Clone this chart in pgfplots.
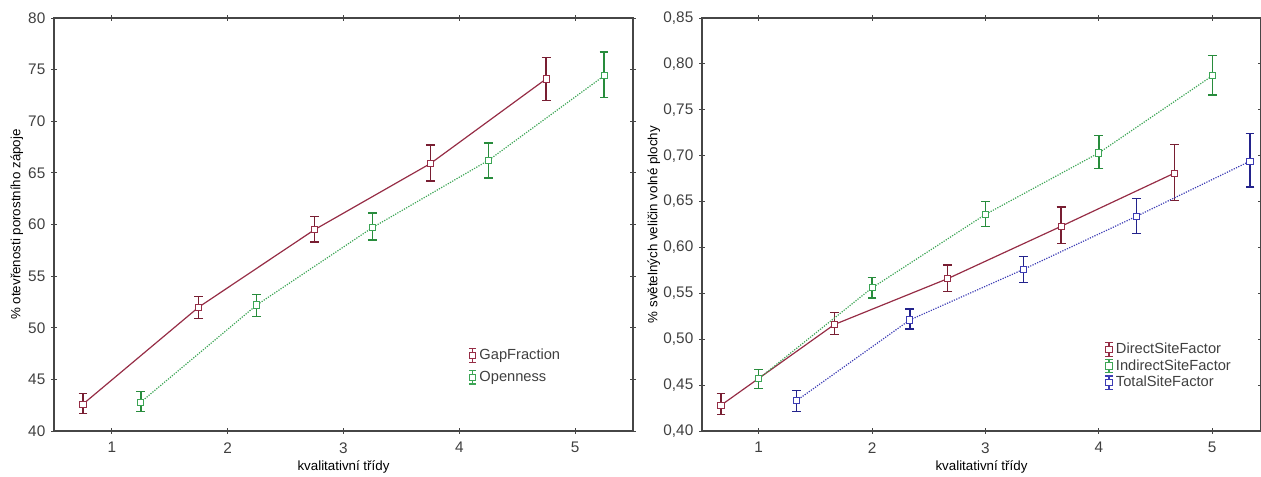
\documentclass[border=0pt]{standalone}
\usepackage{fontspec}
\setmainfont{Liberation Sans}
\usepackage{pgfplots}
\pgfplotsset{compat=1.18}
\definecolor{gfred}{RGB}{150,45,70}
\definecolor{gfreddark}{RGB}{120,30,50}
\definecolor{opgreen}{RGB}{60,165,85}
\definecolor{opgreendark}{RGB}{40,140,60}
\definecolor{tsblue}{RGB}{60,60,180}
\definecolor{tsbluedark}{RGB}{35,35,140}
\definecolor{framegray}{RGB}{70,70,70}

\pgfplotsset{
  statstyle/.style={
    scale only axis,
    axis line style={framegray, line width=0.9pt},
    tick style={framegray, line width=0.6pt},
    tick align=center, major tick length=4pt,
    xtick pos=both, ytick pos=both,
    xmin=0.5,
    xtick={1,2,3,4,5},
    /pgf/number format/assume math mode=true,
    tick label style={font=\fontsize{11.5}{13}\selectfont, text=black!75},
    label style={font=\fontsize{10.5}{12}\selectfont, text=black!75},
    xticklabel style={yshift=-3pt},
    yticklabel style={xshift=-1pt},
    legend style={draw=none, fill=none, anchor=north west, inner sep=0pt,
      font=\fontsize{11}{12}\selectfont, text=black!75,
      cells={anchor=west}},
    legend image code/.code={
      \draw[#1,solid,line width=0.8pt] (0pt,-5pt)--(0pt,5pt)
        (-2.8pt,-5pt)--(2.8pt,-5pt) (-2.8pt,5pt)--(2.8pt,5pt);
      \draw[#1,solid] plot coordinates {(0pt,0pt)};
    },
  },
  ser/.style 2 args={color=#1, line width=0.9pt, mark=square*,
    mark size=2.3pt, mark options={solid, fill=white, draw=#1, line width=0.7pt},
    error bars/y dir=both, error bars/y explicit,
    error bars/error bar style={color=#2, line width=1pt, solid},
    error bars/error mark options={rotate=90, mark size=3.3pt, color=#2, line width=1pt, solid}},
}

\begin{document}
\begin{tikzpicture}
\useasboundingbox (0,0) rectangle (945.75pt,357.75pt);

% left panel
\begin{axis}[statstyle,
  at={(40.5pt,34.5pt)}, anchor=south west,
  width=434.25pt, height=309.75pt,
  xmax=5.5, ymin=40, ymax=80, ytick={40,45,...,80},
  xlabel={kvalitativní třídy},
  ylabel={\% otevřenosti porostního zápoje},
  every axis x label/.style={at={(axis description cs:0.5,-0.087)}, anchor=center},
  every axis y label/.style={at={(axis description cs:-0.064,0.5)}, rotate=90, anchor=center},
  legend style={at={(axis description cs:0.715,0.205)}, row sep=3pt},
]
\addplot[ser={gfred}{gfreddark}] table[x=x, y=y, y error plus=ep, y error minus=em] {
x    y    ep  em
0.75 42.6 1.0 0.9
1.75 52.0 1.0 1.1
2.75 59.5 1.3 1.2
3.75 65.9 1.8 1.7
4.75 74.1 2.1 2.1
};
\addlegendentry{GapFraction}
\addplot[densely dotted, ser={opgreen}{opgreendark}] table[x=x, y=y, y error plus=ep, y error minus=em] {
x    y    ep  em
1.25 42.8 1.0 0.9
2.25 52.2 1.0 1.1
3.25 59.7 1.4 1.2
4.25 66.2 1.7 1.7
5.25 74.4 2.3 2.1
};
\addlegendentry{Openness}
\end{axis}

% right panel
\begin{axis}[statstyle,
  at={(526.5pt,34.5pt)}, anchor=south west,
  width=419.25pt, height=309.75pt,
  xmax=5.43, ymin=0.40, ymax=0.85, ytick={0.40,0.45,...,0.86},
  yticklabel style={/pgf/number format/.cd, fixed, fixed zerofill, precision=2, use comma},
  xlabel={kvalitativní třídy},
  ylabel={\% světelných veličin volné plochy},
  every axis x label/.style={at={(axis description cs:0.5,-0.087)}, anchor=center},
  every axis y label/.style={at={(axis description cs:-0.086,0.5)}, rotate=90, anchor=center},
  legend style={at={(axis description cs:0.72,0.22)}, row sep=-1pt},
]
\addplot[ser={gfred}{gfreddark}] table[x=x, y=y, y error plus=ep, y error minus=em] {
x     y     ep    em
0.667 0.428 0.013 0.010
1.667 0.516 0.013 0.011
2.667 0.566 0.015 0.014
3.667 0.623 0.021 0.019
4.667 0.681 0.031 0.030
};
\addlegendentry{DirectSiteFactor}
\addplot[densely dotted, ser={opgreen}{opgreendark}] table[x=x, y=y, y error plus=ep, y error minus=em] {
x y     ep    em
1 0.457 0.010 0.011
2 0.556 0.011 0.011
3 0.636 0.014 0.013
4 0.703 0.019 0.017
5 0.787 0.022 0.021
};
\addlegendentry{IndirectSiteFactor}
\addplot[densely dotted, ser={tsblue}{tsbluedark}] table[x=x, y=y, y error plus=ep, y error minus=em] {
x     y     ep    em
1.333 0.433 0.011 0.012
2.333 0.521 0.012 0.010
3.333 0.576 0.014 0.014
4.333 0.634 0.019 0.019
5.333 0.694 0.030 0.028
};
\addlegendentry{TotalSiteFactor}
\end{axis}
\end{tikzpicture}
\end{document}
